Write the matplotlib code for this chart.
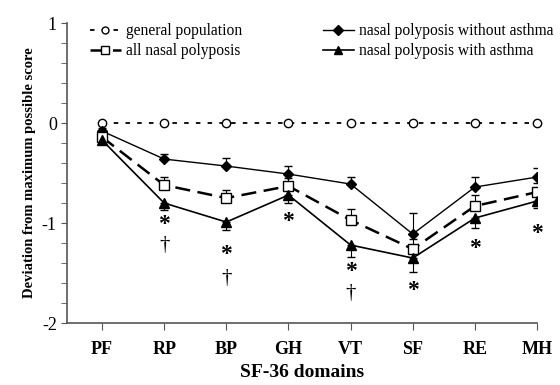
import matplotlib
matplotlib.use('Agg')
import matplotlib.pyplot as plt
from matplotlib.lines import Line2D
import numpy as np

plt.rcParams['font.family'] = ['Liberation Serif', 'DejaVu Serif']

domains = ['PF', 'RP', 'BP', 'GH', 'VT', 'SF', 'RE', 'MH']

general = [0, 0, 0, 0, 0, 0, 0, 0]
all_np = [-0.14, -0.62, -0.75, -0.63, -0.97, -1.26, -0.83, -0.69]
all_np_err = [0.03, 0.08, 0.08, 0.08, 0.11, 0.10, 0.11, 0.09]
no_asthma = [-0.08, -0.36, -0.43, -0.51, -0.61, -1.11, -0.64, -0.54]
no_asthma_err = [0.03, 0.05, 0.08, 0.08, 0.07, 0.21, 0.10, 0.09]
asthma = [-0.17, -0.80, -0.99, -0.72, -1.22, -1.35, -0.95, -0.78]
asthma_err = [0.03, 0.07, 0.08, 0.08, 0.12, 0.14, 0.10, 0.07]

# significance marks below points: (domain index, y value)
stars = [(1, -1.01), (2, -1.31), (3, -0.98), (4, -1.48), (5, -1.67), (6, -1.25), (7, -1.10)]
daggers = [(1, -1.22), (2, -1.55), (4, -1.70)]

x = np.arange(1, len(domains) + 1)

fig = plt.figure(figsize=(5.6, 3.85), dpi=100)
ax = fig.add_axes([0.12, 0.161, 0.839, 0.779])

ax.plot(x, general, ls=(0, (2.5, 4)), color='black', lw=1.3, marker='o',
        mfc='white', mec='black', ms=6, clip_on=False)
ax.errorbar(x, no_asthma, yerr=[np.zeros(8), no_asthma_err], color='black', lw=1.0,
            marker='D', ms=5, mfc='black', capsize=3, elinewidth=0.8)
ax.errorbar(x, all_np, yerr=[np.zeros(8), all_np_err], color='black', lw=1.8,
            ls=(0, (6, 3)), marker='s', ms=7, mfc='white', mec='black', capsize=3,
            elinewidth=0.8)
ax.errorbar(x, asthma, yerr=[asthma_err, np.zeros(8)], color='black', lw=1.2,
            marker='^', ms=7, mfc='black', capsize=3, elinewidth=0.8)

for i, y in stars:
    ax.text(x[i], y, '*', ha='center', va='center', fontsize=17, fontweight='bold')
for i, y in daggers:
    ax.text(x[i], y, '†', ha='center', va='center', fontsize=15)

ax.set_xlim(0.44, 8)
ax.set_ylim(-2, 1)
ax.set_xticks(x)
ax.set_xticklabels(domains, fontweight='bold', fontsize=13)
ax.set_yticks([-2, -1, 0, 1])
ax.set_yticklabels(['-2', '-1', '0', '1'], fontsize=13)
ax.set_yticks(np.arange(-2, 1.01, 0.2), minor=True)
ax.tick_params(axis='y', which='both', length=4, direction='out', color='#555555')
ax.tick_params(axis='x', length=5, direction='out', color='#555555', pad=8)
ax.spines['top'].set_visible(False)
ax.spines['right'].set_visible(False)
ax.spines['left'].set_color('#555555')
ax.spines['bottom'].set_color('#555555')
ax.spines['left'].set_linewidth(1.2)
ax.spines['bottom'].set_linewidth(1.2)

ax.set_xlabel('SF-36 domains', fontweight='bold', fontsize=14, labelpad=4)
ax.set_ylabel('Deviation from maximum possible score', fontweight='bold', fontsize=10.5)

handles = [
    Line2D([], [], ls=(0, (2.5, 4)), color='black', lw=1.3, marker='o', mfc='white', ms=5),
    Line2D([], [], ls=(0, (6, 3)), color='black', lw=1.8, marker='s', mfc='white', ms=6),
    Line2D([], [], color='black', lw=1.0, marker='D', ms=5),
    Line2D([], [], color='black', lw=1.2, marker='^', ms=6),
]
labels = ['general population', 'all nasal polyposis',
          'nasal polyposis without asthma', 'nasal polyposis with asthma']
ax.legend(handles, labels, ncol=2, frameon=False,
          loc='upper left', bbox_to_anchor=(0.035, 1.02), fontsize=11.2,
          handlelength=2.0, handletextpad=0.3, columnspacing=5.2, labelspacing=0.25,
          borderaxespad=0)

fig.savefig('out.png', dpi=100)
